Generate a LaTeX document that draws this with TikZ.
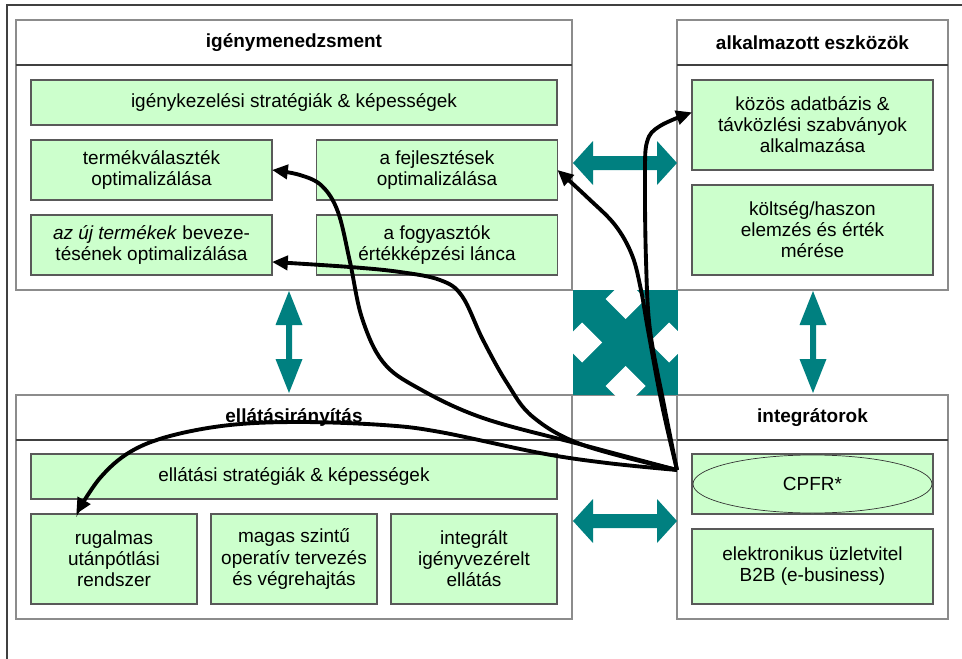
\documentclass[tikz,border=0pt]{standalone}
\usepackage{fontspec}
\setmainfont{Liberation Sans}
\usetikzlibrary{positioning,shapes.geometric,arrows.meta}
\definecolor{boxgreen}{RGB}{204,255,204}
\definecolor{arrowteal}{RGB}{0,128,128}
\newcommand{\tealharrow}[3]{\fill[arrowteal] (#1,#3) -- (#1+20,#3-22) -- (#1+20,#3-7) -- (#2-20,#3-7) -- (#2-20,#3-22) -- (#2,#3)
  -- (#2-20,#3+22) -- (#2-20,#3+7) -- (#1+20,#3+7) -- (#1+20,#3+22) -- cycle;}
\newcommand{\tealvarrow}[3]{\fill[arrowteal] (#1,#2) -- (#1+13.5,#2+34) -- (#1+3,#2+34) -- (#1+3,#3-34) -- (#1+13.5,#3-34) -- (#1,#3)
  -- (#1-13.5,#3-34) -- (#1-3,#3-34) -- (#1-3,#2+34) -- (#1-13.5,#2+34) -- cycle;}
\begin{document}
\begin{tikzpicture}[x=0.2mm,y=-0.2mm,node distance=3mm,font=\fontsize{10.8}{12}\selectfont,
    panel/.style={draw=black!45,line width=0.9pt,outer sep=0pt,inner sep=0pt},
    header/.style={draw=black!45,line width=0.9pt,outer sep=0pt,inner sep=0pt,minimum height=9mm,font=\fontsize{10.8}{12}\selectfont\bfseries},
    box/.style={draw=black!65,line width=0.7pt,fill=boxgreen,outer sep=0pt,inner sep=1pt,align=center,minimum width=48.2mm,minimum height=12mm},
    curve/.style={line width=2.2pt,-{Triangle[length=9pt,width=8pt]}}]
  \useasboundingbox (0,0) rectangle (962,659);
  \draw[black!75,line width=1pt] (7,659) -- (7,5) -- (962,5);

  \node (igenymenedzsment) at (294,155)   [panel,minimum width=111.2mm,minimum height=54mm] {};
  \node (alkalmazott)      at (812.5,155) [panel,minimum width=54.2mm,minimum height=54mm] {};
  \node (ellatasirany)     at (294,507)   [panel,minimum width=111.2mm,minimum height=44.8mm] {};
  \node (integratorok)     at (812.5,507) [panel,minimum width=54.2mm,minimum height=44.8mm] {};
  \node (igenyhead)  [header,minimum width=111.2mm,anchor=north] at (igenymenedzsment.north) {igénymenedzsment};
  \node (alkalmhead) [header,minimum width=54.2mm,anchor=north]  at (alkalmazott.north) {alkalmazott eszközök};
  \node (ellathead)  [header,minimum width=111.2mm,anchor=north] at (ellatasirany.north) {ellátásirányítás};
  \node (integhead)  [header,minimum width=54.2mm,anchor=north]  at (integratorok.north) {integrátorok};
  \draw[black!45,line width=0.9pt] (ellatasirany.north east) -- (integratorok.north west);
  \draw[black!45,line width=0.9pt] (ellathead.south east) -- (integhead.south west);
  \foreach \h in {igenyhead,alkalmhead,ellathead,integhead}
    \draw[black!75,line width=0.9pt] (\h.south west) -- (\h.south east);

  \node (igenystrat)      at (294,102.5) [box,minimum width=105.2mm,minimum height=9mm] {igénykezelési stratégiák \& képességek};
  \node (termekvalasztek) at (151.5,170) [box] {termékválaszték\\optimalizálása};
  \node (fejlesztesek)    at (437,170)   [box] {a fejlesztések\\optimalizálása};
  \node (ujtermekek)      [box,below=of termekvalasztek] {\textit{az új termékek} beveze-\\tésének optimalizálása};
  \node (fogyasztok)      [box,below=of fejlesztesek] {a fogyasztók\\értékképzési lánca};
  \node (kozosadatbazis)  at (812.5,125) [box,minimum height=18mm] {közös adatbázis \&\\távközlési szabványok\\alkalmazása};
  \node (koltseghaszon)   [box,minimum height=18mm,below=of kozosadatbazis] {költség/haszon\\elemzés és érték\\mérése};
  \node (ellatasistrat)   at (294,476.5) [box,minimum width=105.2mm,minimum height=9mm] {ellátási stratégiák \& képességek};
  \node (rugalmas)        at (114,559)   [box,minimum width=33.2mm,minimum height=18mm] {rugalmas\\utánpótlási\\rendszer};
  \node (magasszintu)     [box,minimum width=33.2mm,minimum height=18mm,right=2.8mm of rugalmas] {magas szintű\\operatív tervezés\\és végrehajtás};
  \node (integralt)       [box,minimum width=33.2mm,minimum height=18mm,right=2.8mm of magasszintu] {integrált\\igényvezérelt\\ellátás};
  \node (cpfrbox)         at (812.5,484) [box] {};
  \node (ebusiness)       [box,minimum height=15mm,below=of cpfrbox] {elektronikus üzletvitel\\B2B (e-business)};
  \node (cpfr) at (cpfrbox) [ellipse,draw=black!80,line width=0.4pt,fill=boxgreen,minimum width=47.8mm,minimum height=11.6mm] {CPFR*};

  \tealharrow{573}{677}{163}
  \tealharrow{573}{677}{521}
  \tealvarrow{289}{291}{393}
  \tealvarrow{813}{291}{393}
  \begin{scope}
    \clip (573,290) rectangle (678,395);
    \fill[arrowteal] (573,290) rectangle (678,395);
    \foreach \a in {0,90,180,270}
      \fill[white,rotate around={\a:(625.5,342.5)}] (625.5,279) -- ++(20,20) -- ++(-20,20) -- ++(-20,-20) -- cycle;
  \end{scope}

  \coordinate (hub) at (677,470);
  \draw[curve] plot[smooth,tension=0.6] coordinates {(hub) (583,445) (483,418) (418,388) (383,362) (362,318) (350,262) (338,212) (322,186) (300,175) (termekvalasztek.east)};
  \draw[curve] plot[smooth,tension=0.6] coordinates {(hub) (583,445) (533,417) (507,383) (483,340) (462,296) (440,280) (400,272) (350,267) (ujtermekek.-8)};
  \draw[curve] plot[smooth,tension=0.6] coordinates {(hub) (662,405) (648,330) (641,290) (632,255) (615,225) (588,198) (fejlesztesek.east)};
  \draw[curve] plot[smooth,tension=0.6] coordinates {(hub) (664,405) (650,330) (646,260) (645,180) (647,142) (660,126) (kozosadatbazis.174)};
  \draw[curve] plot[smooth,tension=0.6] coordinates {(hub) (607,463) (540,453) (440,432) (383,425) (300,422) (230,425) (170,436) (130,452) (100,478) (rugalmas.130)};
\end{tikzpicture}
\end{document}
